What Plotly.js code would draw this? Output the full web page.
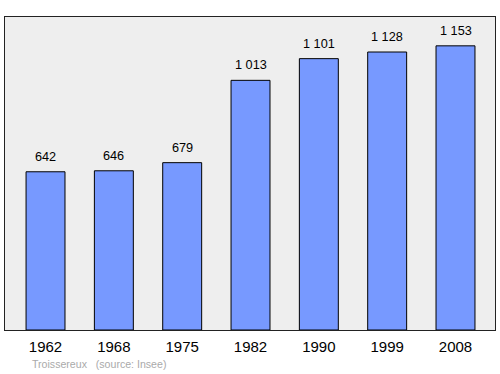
<!DOCTYPE html>
<html>
<head>
<meta charset="utf-8">
<script src="https://cdn.plot.ly/plotly-3.0.1.min.js"></script>
<style>html,body{margin:0;padding:0;background:#fff;}#chart{width:500px;height:374px;}</style>
</head>
<body>
<div id="chart"></div>
<script>
var years = ["1962", "1968", "1975", "1982", "1990", "1999", "2008"];
var population = [642, 646, 679, 1013, 1101, 1128, 1153];
var town = "Troissereux";
var source = "(source: Insee)";

function fmt(v) {
  return String(v).replace(/\B(?=(\d{3})+(?!\d))/g, " ");
}

var trace = {
  type: "bar",
  x: years,
  y: population,
  width: 0.57,
  marker: {color: "#7799ff", line: {color: "#000000", width: 1}},
  hoverinfo: "none"
};

var annotations = years.map(function (yr, i) {
  return {
    x: i, y: population[i], xref: "x", yref: "y",
    text: fmt(population[i]), showarrow: false,
    yanchor: "bottom", yshift: 6,
    font: {family: "Liberation Sans, Arial, sans-serif", size: 12.7, color: "#000"}
  };
});
annotations.push({
  xref: "paper", yref: "paper", x: (30 - 5) / 490, y: -(364 - 330) / 313,
  xanchor: "left", yanchor: "middle", showarrow: false,
  text: town + "   " + source,
  font: {family: "Liberation Sans, Arial, sans-serif", size: 10.6, color: "#aaaaaa"}
});

var layout = {
  width: 500, height: 374,
  margin: {l: 5, r: 5, t: 17, b: 44, pad: 0},
  paper_bgcolor: "#ffffff",
  plot_bgcolor: "#eeeeee",
  showlegend: false,
  font: {family: "Liberation Sans, Arial, sans-serif", size: 14, color: "#000"},
  xaxis: {
    type: "category",
    range: [-0.593, 6.578],
    showline: true, mirror: true, linecolor: "#222", linewidth: 1,
    ticks: "", showgrid: false, zeroline: false,
    tickfont: {size: 15, color: "#000"},
    ticklabelstandoff: 3,
    fixedrange: true
  },
  yaxis: {
    range: [0, 1270],
    showline: true, mirror: true, linecolor: "#222", linewidth: 1,
    showticklabels: false, ticks: "", showgrid: false, zeroline: false,
    fixedrange: true
  },
  annotations: annotations
};

Plotly.newPlot("chart", [trace], layout, {displayModeBar: false, staticPlot: true});
</script>
</body>
</html>
